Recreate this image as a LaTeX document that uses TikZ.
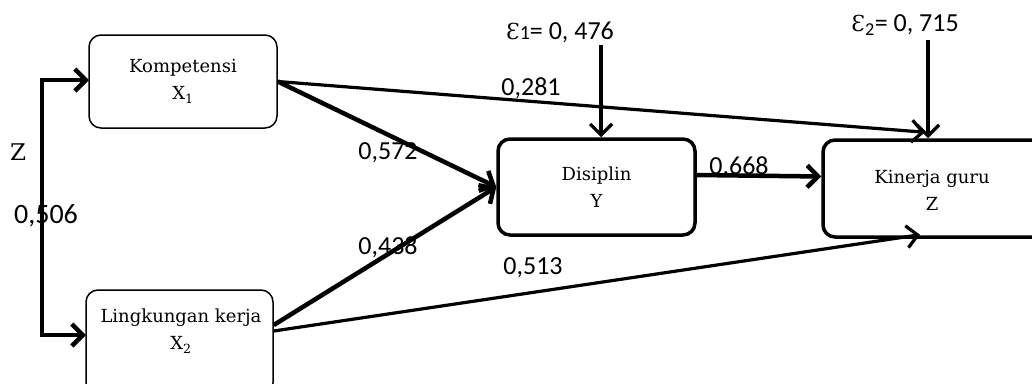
\documentclass[tikz,border=0pt]{standalone}
\usepackage{fontspec}
\usetikzlibrary{arrows.meta}
\newfontfamily\boxfont{DejaVu Serif}
\newfontfamily\numfont{Carlito}
\begin{document}
\begin{tikzpicture}[x=1pt,y=-1pt,
  boxtext/.style={align=center, inner sep=0pt, font=\boxfont\fontsize{18}{27}\selectfont},
  box/.style={draw, rounded corners=12pt, boxtext},
  thinbox/.style={box, line width=1.5pt},
  thickbox/.style={box, line width=3.5pt},
  barb/.tip={Straight Barb[length=11pt,width=22pt]},
  arr/.style={-barb, line width=4.5pt},
  tarr/.style={-barb, line width=3.2pt},
  num/.style={font=\numfont\fontsize{26}{30}\selectfont, inner sep=0pt}]
\useasboundingbox (0,0) rectangle (1032,383);
\clip (0,0) rectangle (1032,383);
% boxes
\node[thinbox, minimum width=188pt, minimum height=93pt] (komp) at (183,81.5) {Kompetensi\\X\textsubscript{1}};
\node[thinbox, minimum width=187pt, minimum height=105pt] (ling) at (179.5,342.5) {};
\node[boxtext] (lingtext) at (181,331) {Lingkungan kerja\\X\textsubscript{2}};
\node[thickbox, minimum width=197pt, minimum height=96pt] (disc) at (596.5,187) {Disiplin\\Y};
\node[thickbox, minimum width=260pt, minimum height=97pt] (kin) at (953,188.5) {};
\node[boxtext] (kintext) at (932,190) {Kinerja guru\\Z};
% free ends
\coordinate (bx) at (42,0);
\coordinate (e1top) at (601,45);
\coordinate (e2top) at (928,40);
\coordinate (kompin) at (89,80);
\coordinate (lingin) at (86,335);
% connectors
\draw[barb-barb, line width=4.5pt, line join=miter] (kompin) -- (bx |- kompin) -- (bx |- lingin) -- (lingin);
\draw[arr] (komp.east) -- (disc.west);
\draw[tarr] (komp.east) -- ([shift={(-28,-6)}]kin.north);
\draw[arr] (ling.east |- 0,325) -- (disc.west);
\draw[tarr] (ling.east |- 0,331) -- ([shift={(-33,-4)}]kin.south);
\draw[arr] ([shift={(0,-12)}]disc.east) -- ([shift={(0,-12)}]kin.west);
\draw[tarr] (e1top) -- (e1top |- disc.north);
\draw[tarr] (e2top) -- (e2top |- kin.north);
% labels
\node[font=\boxfont\fontsize{23}{26}\selectfont, inner sep=0pt] (lz) at (18,152) {Z};
\node[num, font=\numfont\fontsize{28}{32}\selectfont] (l506) at (46,216) {0,506};
\node[num] (l281) at (531,88) {0,281};
\node[num] (l572) at (388,153) {0,572};
\node[num] (l438) at (388,247) {0,438};
\node[num] (l513) at (533,268) {0,513};
\node[num] (l668) at (739,167) {0,668};
\node[num] (le1) at (560,32) {{\boxfont\fontsize{22}{26}\selectfont Ɛ}{\fontsize{20}{24}\selectfont 1}= 0, 476};
\node[num] (le2) at (905,25) {{\boxfont\fontsize{22}{26}\selectfont Ɛ}\textsubscript{2}= 0, 715};
\end{tikzpicture}
\end{document}
